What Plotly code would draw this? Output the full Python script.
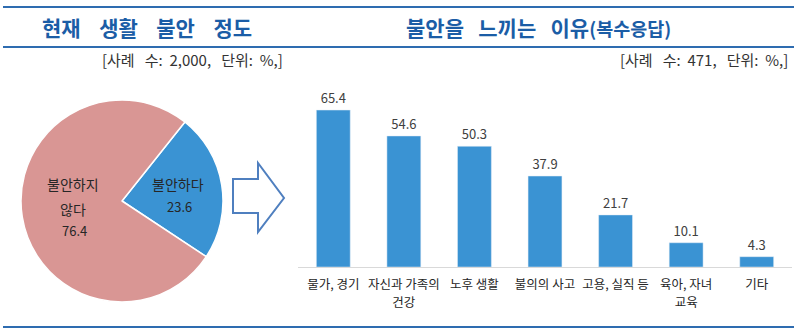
import plotly.graph_objects as go

pie_labels = ["불안하다", "불안하지<br>않다"]
pie_values = [23.6, 76.4]

categories = ["물가, 경기", "자신과 가족의<br>건강", "노후 생활", "불의의 사고", "고용, 실직 등", "육아, 자녀<br>교육", "기타"]
bar_values = [65.4, 54.6, 50.3, 37.9, 21.7, 10.1, 4.3]

W, H = 800, 334
FONT = "Noto Sans CJK KR"
BLUE = "#3a93d3"
PINK = "#d99694"
LINE = "#2e6cb0"
TITLE = "#1b5da6"

def px(x):
    return x / W

def py(y):
    return 1 - y / H

fig = go.Figure()

fig.add_trace(go.Pie(
    labels=pie_labels, values=pie_values, sort=False, direction="clockwise",
    rotation=38.5,
    marker=dict(colors=[BLUE, PINK], line=dict(color="white", width=1.5)),
    textinfo="none",
    domain=dict(x=[px(21), px(223)], y=[py(302), py(100)]),
    showlegend=False, hoverinfo="skip",
))

fig.add_trace(go.Bar(
    x=categories, y=bar_values, marker_color=BLUE, width=0.48,
    text=[f"{v:.1f}" for v in bar_values], textposition="outside",
    textfont=dict(family=FONT, size=13, color="#404040"),
    cliponaxis=False, showlegend=False, hoverinfo="skip",
))

arrow = [(233, 179), (258, 179), (258, 163), (284, 198), (258, 232), (258, 213), (233, 213)]
path = "M " + " L ".join(f"{px(x):.5f},{py(y):.5f}" for x, y in arrow) + " Z"

shapes = [
    dict(type="path", xref="paper", yref="paper", path=path, line=dict(color="#4f7fbf", width=2), fillcolor="white"),
]
for yy in (7, 47, 327):
    shapes.append(dict(type="line", xref="paper", yref="paper", x0=px(3), x1=px(794), y0=py(yy), y1=py(yy),
                       line=dict(color=LINE, width=2)))

NB = "\u00a0"
G = NB * 3 + "\u2009"
annotations = [
    dict(text=f"<b>현재{G}생활{G}불안{G}정도</b>", x=px(146.5), y=py(27), xref="paper", yref="paper",
         showarrow=False, font=dict(family=FONT, size=21, color=TITLE), xanchor="center", yanchor="middle"),
    dict(text=f"[사례{NB*3}수:{NB*2}2,000,{NB*3}단위:{NB*2}%,]", x=px(192), y=py(60), xref="paper", yref="paper",
         showarrow=False, font=dict(family=FONT, size=15, color="#333333"), xanchor="center", yanchor="middle"),
    dict(text=f"<b>불안을{NB*3}느끼는{NB*3}이유</b><b><span style='font-size:18.5px'>(복수응답)</span></b>", x=px(404), y=py(27),
         xref="paper", yref="paper", showarrow=False, font=dict(family=FONT, size=21, color=TITLE),
         xanchor="left", yanchor="middle"),
    dict(text=f"[사례{NB*3}수:{NB*2}471,{NB*3}단위:{NB*2}%,]", x=px(790), y=py(60), xref="paper", yref="paper",
         showarrow=False, font=dict(family=FONT, size=15, color="#333333"), xanchor="right", yanchor="middle"),
]

# pie slice labels (text lines from the data, placed inside slices)
pie_text_pos = [(178, [184], 207), (73, [184, 209], 230)]
for lab, val, (cx, label_ys, val_y) in zip(pie_labels, pie_values, pie_text_pos):
    for line, ly in zip(lab.split("<br>"), label_ys):
        annotations.append(dict(text=line, x=px(cx), y=py(ly), xref="paper", yref="paper", showarrow=False,
                                font=dict(family=FONT, size=14, color="#262626"), xanchor="center", yanchor="middle"))
    annotations.append(dict(text=f"{val:.1f}", x=px(cx + 1), y=py(val_y), xref="paper", yref="paper", showarrow=False,
                            font=dict(family=FONT, size=13, color="#262626"), xanchor="center", yanchor="middle"))

# tick labels: larger base size gives a wider line gap, inner span keeps glyph size
ticktext = ["<br>".join(f"<span style='font-size:12.5px'>{part}</span>" for part in c.split("<br>")) for c in categories]

fig.update_layout(
    width=W, height=H, margin=dict(l=0, r=0, t=0, b=0),
    paper_bgcolor="white", plot_bgcolor="white",
    shapes=shapes, annotations=annotations,
    xaxis=dict(domain=[px(298), px(792)], showline=True, linecolor="#d9d9d9", linewidth=1,
               tickmode="array", tickvals=categories, ticktext=ticktext,
               tickfont=dict(family=FONT, size=13.5, color="#262626"), ticks="", ticklabelstandoff=5,
               showgrid=False, fixedrange=True),
    yaxis=dict(domain=[py(267), py(87)], range=[0, 75], visible=False, showgrid=False, fixedrange=True),
    font=dict(family=FONT),
)

fig.write_html("out.html")
